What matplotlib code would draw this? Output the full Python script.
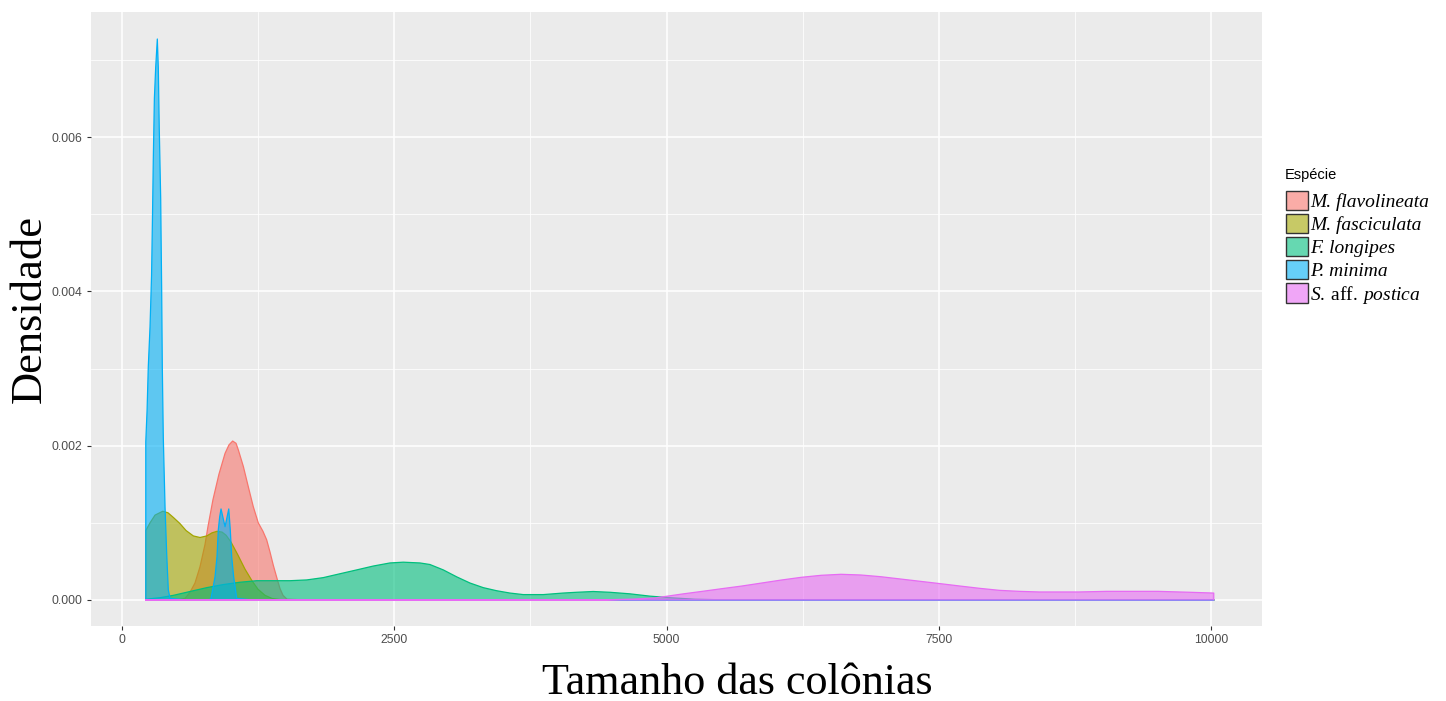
import numpy as np
import matplotlib
matplotlib.use("Agg")
import matplotlib.pyplot as plt
from matplotlib.patches import Patch
from matplotlib.ticker import MultipleLocator

# valores (tamanho da colônia, densidade)
flavo_x = [218, 500, 578, 624, 670, 716, 762, 789, 835, 890, 946, 982, 1016, 1047, 1069, 1114,
           1159, 1205, 1251, 1294, 1328, 1359, 1389, 1423, 1450, 1478, 1515, 1700, 10025]
flavo_d = [0, 0, 0.00002, 0.0001, 0.00022, 0.00043, 0.00072, 0.00095, 0.0013, 0.00163, 0.0019,
           0.00201, 0.00206, 0.00203, 0.00194, 0.00173, 0.00147, 0.00121, 0.001, 0.00089,
           0.00078, 0.00062, 0.00045, 0.00028, 0.00015, 0.00006, 0.00001, 0, 0]

fasc_x = [218, 257, 303, 374, 422, 471, 532, 588, 655, 716, 778, 826, 872, 918, 955, 1001,
          1065, 1129, 1193, 1248, 1313, 1377, 1450, 1600, 10025]
fasc_d = [0.0009, 0.001, 0.0011, 0.00115, 0.00113, 0.00107, 0.00099, 0.0009, 0.00083, 0.00081,
          0.00083, 0.00087, 0.00089, 0.00088, 0.00084, 0.00075, 0.00058, 0.0004, 0.00025,
          0.00014, 0.00006, 0.00002, 0.000005, 0, 0]

long_x = [218, 349, 471, 624, 778, 930, 1083, 1237, 1386, 1542, 1696, 1848, 2001, 2155, 2307,
          2460, 2582, 2736, 2827, 2950, 3073, 3195, 3317, 3440, 3562, 3684, 3868, 4051, 4174,
          4327, 4480, 4663, 4847, 5031, 5260, 5600, 10025]
long_d = [0.00001, 0.00003, 0.00006, 0.00011, 0.00016, 0.0002, 0.00023, 0.00025, 0.00025,
          0.00025, 0.00026, 0.00029, 0.00034, 0.00039, 0.00044, 0.00048, 0.00049, 0.00048,
          0.00046, 0.00039, 0.0003, 0.00022, 0.00016, 0.00012, 0.00009, 0.00007, 0.00007,
          0.00009, 0.0001, 0.00011, 0.0001, 0.00008, 0.00005, 0.00003, 0.00001, 0, 0]

minima_x = [218, 230, 241, 257, 271, 280, 287, 297, 309, 324, 333, 342, 355, 364, 370, 379, 395,
            410, 425, 441, 600, 800, 817, 854, 872, 884, 897, 909, 946, 980, 994, 1007, 1025,
            1053, 1200, 10025]
minima_d = [0.00205, 0.00246, 0.00302, 0.00354, 0.0042, 0.005, 0.0057, 0.0065, 0.0069, 0.00727,
            0.0069, 0.0061, 0.0052, 0.004, 0.003, 0.0021, 0.0012, 0.0006, 0.00013, 0.00002, 0,
            0, 0.00002, 0.0003, 0.00056, 0.00091, 0.00108, 0.00118, 0.00095, 0.00118, 0.00091,
            0.00056, 0.0003, 0.00002, 0, 0]

postica_x = [218, 4300, 4450, 4700, 4891, 5000, 5146, 5328, 5510, 5692, 5874, 6056, 6238, 6420,
             6602, 6784, 6966, 7148, 7330, 7512, 7694, 7876, 8058, 8240, 8422, 8786, 9041, 9514,
             9806, 10025]
postica_d = [0, 0, 0.000003, 0.000012, 0.000026, 0.000048, 0.000078, 0.000112, 0.000147,
             0.000181, 0.00022, 0.000259, 0.000294, 0.00032, 0.000333, 0.000324, 0.000302,
             0.000272, 0.000242, 0.000212, 0.000181, 0.000151, 0.000125, 0.000112, 0.000104,
             0.000104, 0.000112, 0.000112, 0.0001, 0.00009]

especies = ["M. flavolineata", "M. fasciculata", "F. longipes", "P. minima",
            r"$\it{S.}\:\mathrm{aff.}\:\it{postica}$"]
cores = ["#F8766D", "#A3A500", "#00BF7D", "#00B0F6", "#E76BF3"]

plt.rcParams["mathtext.fontset"] = "custom"
plt.rcParams["mathtext.rm"] = "Liberation Serif"
plt.rcParams["mathtext.it"] = "Liberation Serif:italic"

fig = plt.figure(figsize=(14.46, 7.01), dpi=100)
ax = fig.add_axes([91 / 1446, 1 - 626 / 701, (1262 - 91) / 1446, (626 - 12) / 701])
ax.set_facecolor("#EBEBEB")
for s in ax.spines.values():
    s.set_visible(False)

series = [(flavo_x, flavo_d), (fasc_x, fasc_d), (long_x, long_d),
          (minima_x, minima_d), (postica_x, postica_d)]
# cada grupo desenhado por cima do anterior (preenchimento + contorno), como no ggplot
for i, ((xs, ds), c) in enumerate(zip(series, cores)):
    ax.fill_between(xs, 0, ds, facecolor=c, alpha=0.6, edgecolor="none", zorder=2 + 2 * i)
    px = [xs[0]] + list(xs) + [xs[-1], xs[0]]
    py = [0] + list(ds) + [0, 0]
    ax.plot(px, py, color=c, lw=0.9, zorder=3 + 2 * i)

ax.set_xlim(-285, 10468)
ax.set_ylim(-0.000337, 0.00762)
ax.xaxis.set_major_locator(MultipleLocator(2500))
ax.xaxis.set_minor_locator(MultipleLocator(1250))
ax.yaxis.set_major_locator(MultipleLocator(0.002))
ax.yaxis.set_minor_locator(MultipleLocator(0.001))
ax.yaxis.set_major_formatter(matplotlib.ticker.FormatStrFormatter("%.3f"))
ax.grid(which="major", color="white", lw=1.1, zorder=0)
ax.grid(which="minor", color="white", lw=0.55, zorder=0)
ax.set_axisbelow(True)
ax.tick_params(which="major", length=3, width=0.8, color="#333333", labelsize=8.8,
               labelcolor="#4D4D4D", pad=3)
ax.tick_params(which="minor", length=0)
for t in ax.get_xticklabels() + ax.get_yticklabels():
    t.set_family("Liberation Sans")

fig.text(737 / 1446, 1 - 683 / 701, "Tamanho das colônias", family="Liberation Serif",
         fontsize=31.8, ha="center", va="center")
fig.text(30 / 1446, 1 - 309 / 701, "Densidade", family="Liberation Serif",
         fontsize=32, ha="center", va="center", rotation=90)

# título da legenda separado, para acertar o espaçamento
fig.text(1285 / 1446, 1 - 175 / 701, "Espécie", family="Liberation Sans", fontsize=10.5,
         ha="left", va="center")
handles = [Patch(facecolor=matplotlib.colors.to_rgba(c, 0.6), edgecolor="#333333", lw=1)
           for c in cores]
leg = fig.legend(handles, especies, loc="upper left", bbox_to_anchor=(1276 / 1446, 1 - 181 / 701),
                 frameon=False, borderpad=0, handlelength=1.15,
                 handleheight=1.15, labelspacing=0.15, handletextpad=0.12,
                 prop={"family": "Liberation Serif", "size": 14})
for t in leg.get_texts()[:4]:
    t.set_fontstyle("italic")

fig.savefig("out.png", dpi=100)
